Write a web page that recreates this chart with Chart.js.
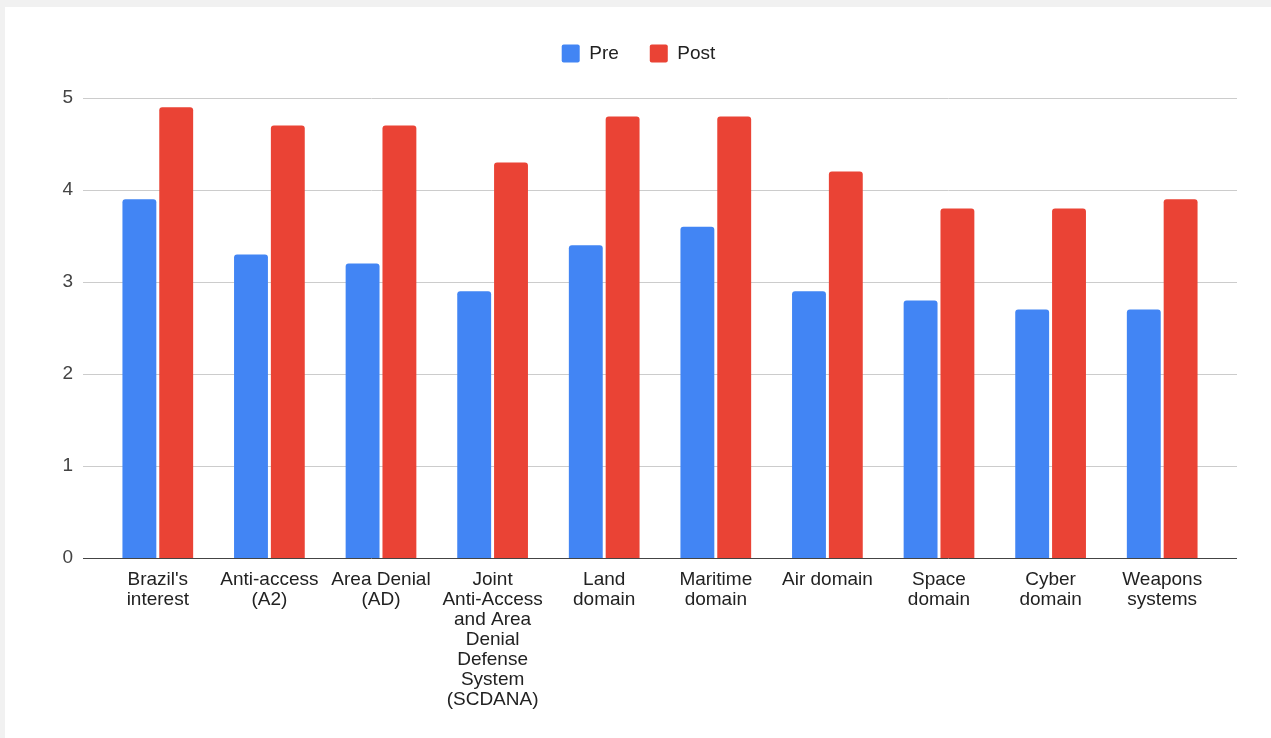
<!DOCTYPE html>
<html>
<head>
<meta charset="utf-8">
<title>Pre / Post</title>
<script src="https://cdn.jsdelivr.net/npm/chart.js@4.4.1/dist/chart.umd.min.js"></script>
<style>
  html, body { margin: 0; padding: 0; background: #f1f1f1; overflow: hidden; }
  #card { position: absolute; left: 5px; top: 7px; width: 1266px; height: 731px; background: #ffffff; }
  canvas { display: block; }
</style>
</head>
<body>
<div id="card"><canvas id="chart" width="1266" height="731"></canvas></div>
<script>
// Category labels (multi-line where the label wraps)
const categories = [
  ["Brazil's", "interest"],
  ["Anti-access", "(A2)"],
  ["Area Denial", "(AD)"],
  ["Joint", "Anti-Access", "and Area", "Denial", "Defense", "System", "(SCDANA)"],
  ["Land", "domain"],
  ["Maritime", "domain"],
  ["Air domain"],
  ["Space", "domain"],
  ["Cyber", "domain"],
  ["Weapons", "systems"]
];

// Series values
const preValues  = [3.9, 3.3, 3.2, 2.9, 3.4, 3.6, 2.9, 2.8, 2.7, 2.7];
const postValues = [4.9, 4.7, 4.7, 4.3, 4.8, 4.8, 4.2, 3.8, 3.8, 3.9];

// Value axis
const yMin = 0;
const yMax = 5;
const yStep = 1;

const FONT = '"Liberation Sans", Arial, sans-serif';

// Horizontal grid lines that run a little past the plot on both sides
const wideGrid = {
  id: 'wideGrid',
  beforeDatasetsDraw(chart, args, opts) {
    const { ctx, chartArea, scales: { y } } = chart;
    const ext = opts.extend || 0;
    ctx.save();
    ctx.lineWidth = 1;
    y.ticks.forEach(t => {
      const py = Math.round(y.getPixelForValue(t.value)) + 0.5;
      ctx.strokeStyle = t.value === 0 ? opts.zeroColor : opts.color;
      ctx.beginPath();
      ctx.moveTo(chartArea.left - ext, py);
      ctx.lineTo(chartArea.right + ext, py);
      ctx.stroke();
    });
    ctx.restore();
  }
};

// Extra space between the legend and the plot
const legendGap = {
  id: 'legendGap',
  beforeLayout(chart, args, opts) {
    const lg = chart.legend;
    if (lg && !lg.$gapAdded) {
      const fit = lg.fit.bind(lg);
      lg.fit = function () { fit(); this.height += opts.gap || 0; };
      lg.$gapAdded = true;
    }
  }
};

new Chart(document.getElementById('chart'), {
  type: 'bar',
  data: {
    labels: categories,
    datasets: [
      {
        label: 'Pre',
        data: preValues,
        backgroundColor: '#4285F4',
        borderWidth: 0,
        borderRadius: 3,
        borderSkipped: 'start',
        categoryPercentage: 0.66,
        barPercentage: 0.92
      },
      {
        label: 'Post',
        data: postValues,
        backgroundColor: '#EA4335',
        borderWidth: 0,
        borderRadius: 3,
        borderSkipped: 'start',
        categoryPercentage: 0.66,
        barPercentage: 0.92
      }
    ]
  },
  options: {
    responsive: false,
    animation: false,
    layout: { padding: { left: 54, right: 53, top: 6, bottom: 0 } },
    plugins: {
      legend: {
        position: 'top',
        align: 'center',
        labels: {
          boxWidth: 18,
          boxHeight: 18,
          padding: 31,
          useBorderRadius: true,
          borderRadius: 2,
          color: '#222222',
          font: { family: FONT, size: 19 }
        }
      },
      tooltip: { enabled: false },
      wideGrid: { extend: 19, color: '#cccccc', zeroColor: '#444444' },
      legendGap: { gap: 25 }
    },
    scales: {
      x: {
        grid: { display: false, drawTicks: false },
        border: { display: false },
        ticks: {
          color: '#222222',
          font: { family: FONT, size: 19, lineHeight: 20 / 19 },
          padding: 12,
          maxRotation: 0,
          autoSkip: false
        },
        afterFit(scale) { scale.height = 180; }
      },
      y: {
        min: yMin,
        max: yMax,
        grid: { display: false, drawTicks: false },
        border: { display: false },
        ticks: {
          stepSize: yStep,
          color: '#444444',
          font: { family: FONT, size: 19 },
          padding: 29
        },
        afterFit(scale) { scale.width = 43; }
      }
    }
  },
  plugins: [wideGrid, legendGap]
});
</script>
</body>
</html>
